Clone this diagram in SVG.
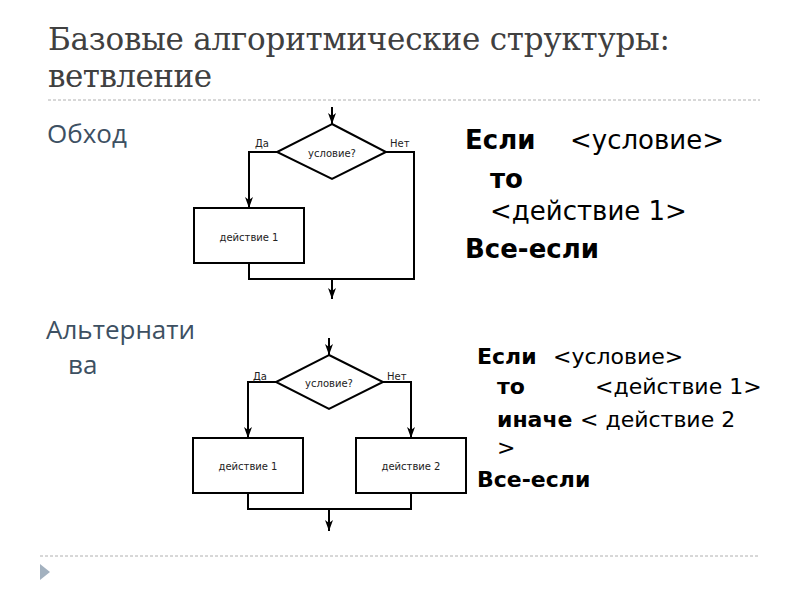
<svg xmlns="http://www.w3.org/2000/svg" width="800" height="600" viewBox="0 0 800 600">
<defs>
<style>
.title{font-family:"DejaVu Serif","Liberation Serif",serif;font-size:31px;fill:#404040}
.side{font-family:"Open Sans","Noto Sans",sans-serif;font-size:26px;fill:#3d5062}
.code1{font-family:"DejaVu Sans",sans-serif;font-size:26px;fill:#000}
.code2{font-family:"DejaVu Sans",sans-serif;font-size:22px;fill:#000}
.b{font-weight:bold}
.sm{font-family:"DejaVu Sans",sans-serif;font-size:10px;fill:#222}
.shape{fill:#fff;stroke:#000;stroke-width:2}
.conn path{fill:none;stroke:#000;stroke-width:2}
.dash{stroke:#b0b0b0;stroke-width:1;stroke-dasharray:3 2}
</style>
<marker id="arr" markerUnits="userSpaceOnUse" markerWidth="12" markerHeight="10" refX="11" refY="5" orient="auto">
<path d="M0,1 L11,5 L0,9 L3,5 z" fill="#000"/>
</marker>
</defs>
<rect width="800" height="600" fill="#fff"/>
<text class="title" x="48" y="50" textLength="622">Базовые алгоритмические структуры:</text>
<text class="title" x="48" y="87" textLength="164">ветвление</text>
<line class="dash" x1="48" y1="100" x2="760" y2="100"/>
<line class="dash" x1="40" y1="556" x2="760" y2="556"/>
<polygon points="40,564 50,572 40,580" fill="#a3b1bf"/>
<text class="side" x="47" y="143">Обход</text>
<text class="side" x="46" y="339">Альтернати</text>
<text class="side" x="68" y="374">ва</text>
<g id="code1" class="code1">
<text class="b" x="465" y="149">Если</text>
<text x="570" y="149">&lt;условие&gt;</text>
<text class="b" x="490" y="188">то</text>
<text x="490" y="220">&lt;действие 1&gt;</text>
<text class="b" x="465" y="258">Все-если</text>
</g>
<g id="code2" class="code2">
<text class="b" x="477" y="364">Если</text>
<text x="553" y="364">&lt;условие&gt;</text>
<text class="b" x="497" y="394">то</text>
<text x="595" y="394">&lt;действие 1&gt;</text>
<text class="b" x="497" y="427">иначе</text>
<text x="580" y="427">&lt; действие 2</text>
<text x="497" y="455">&gt;</text>
<text class="b" x="477" y="487">Все-если</text>
</g>
<g class="conn" id="connectors">
<path d="M332,107 V124" marker-end="url(#arr)"/>
<path d="M277,152 H249 V208" marker-end="url(#arr)"/>
<path d="M249,263 V279 H414 V152 H386"/>
<path d="M332,279 V299" marker-end="url(#arr)"/>
<path d="M329,338 V355" marker-end="url(#arr)"/>
<path d="M276,382 H248 V438" marker-end="url(#arr)"/>
<path d="M383,382 H411 V438" marker-end="url(#arr)"/>
<path d="M248,493 V509 H411 V493"/>
<path d="M329,509 V531" marker-end="url(#arr)"/>
</g>
<g id="cond1">
<polygon class="shape" points="332,124 386,152 332,179 277,152"/>
<text class="sm" x="332" y="157" text-anchor="middle">условие?</text>
</g>
<g id="act1">
<rect class="shape" x="194" y="208" width="110" height="55"/>
<text class="sm" x="249" y="241" text-anchor="middle">действие 1</text>
</g>
<text class="sm" x="255" y="147">Да</text>
<text class="sm" x="390" y="147">Нет</text>
<g id="cond2">
<polygon class="shape" points="329,355 383,382 329,409 276,382"/>
<text class="sm" x="329" y="387" text-anchor="middle">условие?</text>
</g>
<g id="act2a">
<rect class="shape" x="193" y="438" width="110" height="55"/>
<text class="sm" x="248" y="470" text-anchor="middle">действие 1</text>
</g>
<g id="act2b">
<rect class="shape" x="356" y="438" width="110" height="55"/>
<text class="sm" x="411" y="470" text-anchor="middle">действие 2</text>
</g>
<text class="sm" x="253" y="380">Да</text>
<text class="sm" x="387" y="380">Нет</text>
</svg>
